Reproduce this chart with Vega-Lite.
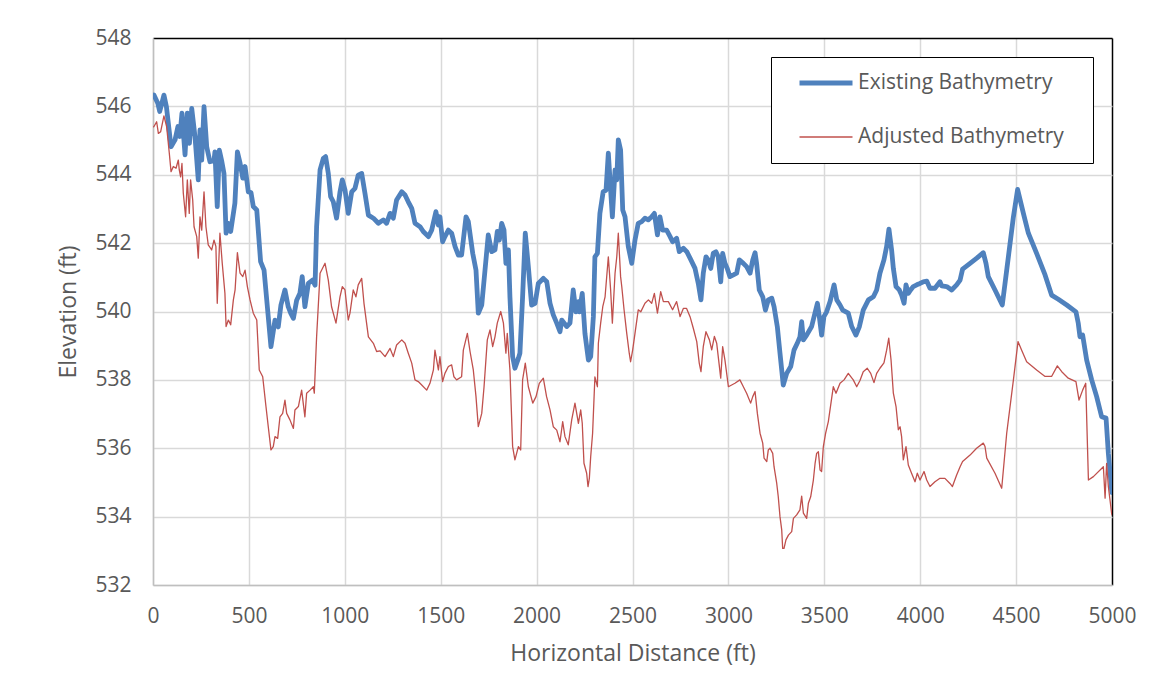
{
  "$schema": "https://vega.github.io/schema/vega-lite/v6.json",
  "width": 959,
  "height": 547,
  "autosize": {"type": "none"},
  "padding": {"left": 153, "top": 38, "right": 49, "bottom": 113},
  "background": "white",
  "config": {
    "view": {"stroke": null},
    "font": "Open Sans",
    "axis": {
      "labelFont": "Open Sans",
      "titleFont": "Open Sans",
      "labelFontSize": 21,
      "titleFontSize": 23,
      "labelColor": "#595959",
      "titleColor": "#595959",
      "titleFontWeight": "normal",
      "ticks": false,
      "domainColor": "#bfbfbf",
      "domainWidth": 1.5,
      "gridWidth": 1.5,
      "labelOverlap": false,
      "labelFlush": false
    },
    "legend": {
      "labelFont": "Open Sans",
      "labelFontSize": 21,
      "labelColor": "#595959",
      "labelLimit": 400
    }
  },
  "data": {
    "values": [
      {"s":"Existing Bathymetry","x":0,"y":546.3},{"s":"Existing Bathymetry","x":5,"y":546.33},{"s":"Existing Bathymetry","x":25,"y":546.09},{"s":"Existing Bathymetry","x":35,"y":545.85},{"s":"Existing Bathymetry","x":57,"y":546.33},{"s":"Existing Bathymetry","x":70,"y":545.99},{"s":"Existing Bathymetry","x":94,"y":544.82},{"s":"Existing Bathymetry","x":115,"y":545.02},{"s":"Existing Bathymetry","x":130,"y":545.41},{"s":"Existing Bathymetry","x":140,"y":545.12},{"s":"Existing Bathymetry","x":151,"y":545.8},{"s":"Existing Bathymetry","x":167,"y":544.58},{"s":"Existing Bathymetry","x":179,"y":545.8},{"s":"Existing Bathymetry","x":190,"y":544.92},{"s":"Existing Bathymetry","x":202,"y":545.94},{"s":"Existing Bathymetry","x":219,"y":545.11},{"s":"Existing Bathymetry","x":236,"y":543.85},{"s":"Existing Bathymetry","x":245,"y":545.31},{"s":"Existing Bathymetry","x":254,"y":544.43},{"s":"Existing Bathymetry","x":266,"y":545.99},{"s":"Existing Bathymetry","x":280,"y":544.82},{"s":"Existing Bathymetry","x":297,"y":544.38},{"s":"Existing Bathymetry","x":318,"y":544.41},{"s":"Existing Bathymetry","x":323,"y":544.67},{"s":"Existing Bathymetry","x":335,"y":543.07},{"s":"Existing Bathymetry","x":346,"y":544.72},{"s":"Existing Bathymetry","x":358,"y":544.41},{"s":"Existing Bathymetry","x":370,"y":544.04},{"s":"Existing Bathymetry","x":381,"y":542.29},{"s":"Existing Bathymetry","x":392,"y":542.58},{"s":"Existing Bathymetry","x":405,"y":542.34},{"s":"Existing Bathymetry","x":427,"y":543.17},{"s":"Existing Bathymetry","x":440,"y":544.67},{"s":"Existing Bathymetry","x":454,"y":544.34},{"s":"Existing Bathymetry","x":468,"y":543.9},{"s":"Existing Bathymetry","x":480,"y":544.24},{"s":"Existing Bathymetry","x":497,"y":543.5},{"s":"Existing Bathymetry","x":511,"y":543.48},{"s":"Existing Bathymetry","x":523,"y":543.07},{"s":"Existing Bathymetry","x":541,"y":542.97},{"s":"Existing Bathymetry","x":561,"y":541.46},{"s":"Existing Bathymetry","x":579,"y":541.21},{"s":"Existing Bathymetry","x":615,"y":538.97},{"s":"Existing Bathymetry","x":636,"y":539.75},{"s":"Existing Bathymetry","x":653,"y":539.55},{"s":"Existing Bathymetry","x":667,"y":540.19},{"s":"Existing Bathymetry","x":688,"y":540.63},{"s":"Existing Bathymetry","x":705,"y":540.14},{"s":"Existing Bathymetry","x":718,"y":539.95},{"s":"Existing Bathymetry","x":732,"y":539.8},{"s":"Existing Bathymetry","x":749,"y":540.33},{"s":"Existing Bathymetry","x":766,"y":540.53},{"s":"Existing Bathymetry","x":778,"y":541.02},{"s":"Existing Bathymetry","x":792,"y":540.14},{"s":"Existing Bathymetry","x":810,"y":540.82},{"s":"Existing Bathymetry","x":832,"y":540.92},{"s":"Existing Bathymetry","x":845,"y":540.77},{"s":"Existing Bathymetry","x":853,"y":542.48},{"s":"Existing Bathymetry","x":871,"y":544.14},{"s":"Existing Bathymetry","x":888,"y":544.48},{"s":"Existing Bathymetry","x":900,"y":544.53},{"s":"Existing Bathymetry","x":914,"y":544.04},{"s":"Existing Bathymetry","x":926,"y":543.36},{"s":"Existing Bathymetry","x":940,"y":543.21},{"s":"Existing Bathymetry","x":957,"y":542.73},{"s":"Existing Bathymetry","x":975,"y":543.5},{"s":"Existing Bathymetry","x":987,"y":543.85},{"s":"Existing Bathymetry","x":1001,"y":543.56},{"s":"Existing Bathymetry","x":1018,"y":542.87},{"s":"Existing Bathymetry","x":1036,"y":543.5},{"s":"Existing Bathymetry","x":1053,"y":543.6},{"s":"Existing Bathymetry","x":1070,"y":543.99},{"s":"Existing Bathymetry","x":1088,"y":544.04},{"s":"Existing Bathymetry","x":1105,"y":543.46},{"s":"Existing Bathymetry","x":1123,"y":542.82},{"s":"Existing Bathymetry","x":1149,"y":542.73},{"s":"Existing Bathymetry","x":1175,"y":542.58},{"s":"Existing Bathymetry","x":1201,"y":542.68},{"s":"Existing Bathymetry","x":1218,"y":542.58},{"s":"Existing Bathymetry","x":1236,"y":542.87},{"s":"Existing Bathymetry","x":1253,"y":542.73},{"s":"Existing Bathymetry","x":1270,"y":543.26},{"s":"Existing Bathymetry","x":1297,"y":543.5},{"s":"Existing Bathymetry","x":1314,"y":543.41},{"s":"Existing Bathymetry","x":1331,"y":543.21},{"s":"Existing Bathymetry","x":1349,"y":543.02},{"s":"Existing Bathymetry","x":1366,"y":542.58},{"s":"Existing Bathymetry","x":1392,"y":542.48},{"s":"Existing Bathymetry","x":1409,"y":542.34},{"s":"Existing Bathymetry","x":1436,"y":542.19},{"s":"Existing Bathymetry","x":1453,"y":542.38},{"s":"Existing Bathymetry","x":1475,"y":542.92},{"s":"Existing Bathymetry","x":1488,"y":542.53},{"s":"Existing Bathymetry","x":1496,"y":542.77},{"s":"Existing Bathymetry","x":1510,"y":542.04},{"s":"Existing Bathymetry","x":1522,"y":542.19},{"s":"Existing Bathymetry","x":1540,"y":542.38},{"s":"Existing Bathymetry","x":1557,"y":542.29},{"s":"Existing Bathymetry","x":1575,"y":541.9},{"s":"Existing Bathymetry","x":1592,"y":541.65},{"s":"Existing Bathymetry","x":1609,"y":541.65},{"s":"Existing Bathymetry","x":1632,"y":542.77},{"s":"Existing Bathymetry","x":1644,"y":542.63},{"s":"Existing Bathymetry","x":1667,"y":541.7},{"s":"Existing Bathymetry","x":1684,"y":541.21},{"s":"Existing Bathymetry","x":1696,"y":539.95},{"s":"Existing Bathymetry","x":1714,"y":540.19},{"s":"Existing Bathymetry","x":1731,"y":541.21},{"s":"Existing Bathymetry","x":1748,"y":542.24},{"s":"Existing Bathymetry","x":1766,"y":541.75},{"s":"Existing Bathymetry","x":1783,"y":541.8},{"s":"Existing Bathymetry","x":1795,"y":542.34},{"s":"Existing Bathymetry","x":1806,"y":542.09},{"s":"Existing Bathymetry","x":1818,"y":542.58},{"s":"Existing Bathymetry","x":1830,"y":542.38},{"s":"Existing Bathymetry","x":1840,"y":541.41},{"s":"Existing Bathymetry","x":1853,"y":541.8},{"s":"Existing Bathymetry","x":1861,"y":540.43},{"s":"Existing Bathymetry","x":1875,"y":538.68},{"s":"Existing Bathymetry","x":1887,"y":538.34},{"s":"Existing Bathymetry","x":1905,"y":538.63},{"s":"Existing Bathymetry","x":1913,"y":538.78},{"s":"Existing Bathymetry","x":1927,"y":540.43},{"s":"Existing Bathymetry","x":1941,"y":542.29},{"s":"Existing Bathymetry","x":1957,"y":541.31},{"s":"Existing Bathymetry","x":1974,"y":540.19},{"s":"Existing Bathymetry","x":1992,"y":540.24},{"s":"Existing Bathymetry","x":2009,"y":540.82},{"s":"Existing Bathymetry","x":2035,"y":540.97},{"s":"Existing Bathymetry","x":2053,"y":540.87},{"s":"Existing Bathymetry","x":2070,"y":540.24},{"s":"Existing Bathymetry","x":2087,"y":539.9},{"s":"Existing Bathymetry","x":2105,"y":539.66},{"s":"Existing Bathymetry","x":2122,"y":539.41},{"s":"Existing Bathymetry","x":2131,"y":539.75},{"s":"Existing Bathymetry","x":2157,"y":539.56},{"s":"Existing Bathymetry","x":2174,"y":539.66},{"s":"Existing Bathymetry","x":2191,"y":540.63},{"s":"Existing Bathymetry","x":2205,"y":539.99},{"s":"Existing Bathymetry","x":2218,"y":540.29},{"s":"Existing Bathymetry","x":2223,"y":539.99},{"s":"Existing Bathymetry","x":2238,"y":540.53},{"s":"Existing Bathymetry","x":2252,"y":539.36},{"s":"Existing Bathymetry","x":2270,"y":538.58},{"s":"Existing Bathymetry","x":2282,"y":538.68},{"s":"Existing Bathymetry","x":2296,"y":539.85},{"s":"Existing Bathymetry","x":2304,"y":541.6},{"s":"Existing Bathymetry","x":2317,"y":541.7},{"s":"Existing Bathymetry","x":2330,"y":542.87},{"s":"Existing Bathymetry","x":2347,"y":543.5},{"s":"Existing Bathymetry","x":2362,"y":543.55},{"s":"Existing Bathymetry","x":2374,"y":544.63},{"s":"Existing Bathymetry","x":2386,"y":543.55},{"s":"Existing Bathymetry","x":2395,"y":542.77},{"s":"Existing Bathymetry","x":2409,"y":544.14},{"s":"Existing Bathymetry","x":2418,"y":543.85},{"s":"Existing Bathymetry","x":2426,"y":545.02},{"s":"Existing Bathymetry","x":2438,"y":544.72},{"s":"Existing Bathymetry","x":2449,"y":542.97},{"s":"Existing Bathymetry","x":2461,"y":542.77},{"s":"Existing Bathymetry","x":2478,"y":541.9},{"s":"Existing Bathymetry","x":2496,"y":541.41},{"s":"Existing Bathymetry","x":2513,"y":542.09},{"s":"Existing Bathymetry","x":2530,"y":542.58},{"s":"Existing Bathymetry","x":2548,"y":542.63},{"s":"Existing Bathymetry","x":2565,"y":542.73},{"s":"Existing Bathymetry","x":2582,"y":542.68},{"s":"Existing Bathymetry","x":2600,"y":542.77},{"s":"Existing Bathymetry","x":2614,"y":542.87},{"s":"Existing Bathymetry","x":2630,"y":542.24},{"s":"Existing Bathymetry","x":2643,"y":542.77},{"s":"Existing Bathymetry","x":2657,"y":542.38},{"s":"Existing Bathymetry","x":2678,"y":542.38},{"s":"Existing Bathymetry","x":2696,"y":542.19},{"s":"Existing Bathymetry","x":2709,"y":542.04},{"s":"Existing Bathymetry","x":2730,"y":542.14},{"s":"Existing Bathymetry","x":2744,"y":541.75},{"s":"Existing Bathymetry","x":2765,"y":541.85},{"s":"Existing Bathymetry","x":2783,"y":541.75},{"s":"Existing Bathymetry","x":2800,"y":541.56},{"s":"Existing Bathymetry","x":2826,"y":541.26},{"s":"Existing Bathymetry","x":2843,"y":540.82},{"s":"Existing Bathymetry","x":2857,"y":540.34},{"s":"Existing Bathymetry","x":2869,"y":541.12},{"s":"Existing Bathymetry","x":2883,"y":541.6},{"s":"Existing Bathymetry","x":2895,"y":541.51},{"s":"Existing Bathymetry","x":2908,"y":541.26},{"s":"Existing Bathymetry","x":2921,"y":541.7},{"s":"Existing Bathymetry","x":2935,"y":541.75},{"s":"Existing Bathymetry","x":2947,"y":541.6},{"s":"Existing Bathymetry","x":2960,"y":540.87},{"s":"Existing Bathymetry","x":2970,"y":541.7},{"s":"Existing Bathymetry","x":2982,"y":541.41},{"s":"Existing Bathymetry","x":2994,"y":541.26},{"s":"Existing Bathymetry","x":3008,"y":541.02},{"s":"Existing Bathymetry","x":3026,"y":541.07},{"s":"Existing Bathymetry","x":3043,"y":541.12},{"s":"Existing Bathymetry","x":3057,"y":541.51},{"s":"Existing Bathymetry","x":3078,"y":541.41},{"s":"Existing Bathymetry","x":3095,"y":541.31},{"s":"Existing Bathymetry","x":3113,"y":541.12},{"s":"Existing Bathymetry","x":3127,"y":541.51},{"s":"Existing Bathymetry","x":3139,"y":541.72},{"s":"Existing Bathymetry","x":3147,"y":541.41},{"s":"Existing Bathymetry","x":3161,"y":540.63},{"s":"Existing Bathymetry","x":3179,"y":540.43},{"s":"Existing Bathymetry","x":3193,"y":540.04},{"s":"Existing Bathymetry","x":3208,"y":540.34},{"s":"Existing Bathymetry","x":3226,"y":540.39},{"s":"Existing Bathymetry","x":3238,"y":540.14},{"s":"Existing Bathymetry","x":3255,"y":539.56},{"s":"Existing Bathymetry","x":3269,"y":538.78},{"s":"Existing Bathymetry","x":3286,"y":537.85},{"s":"Existing Bathymetry","x":3304,"y":538.19},{"s":"Existing Bathymetry","x":3325,"y":538.39},{"s":"Existing Bathymetry","x":3342,"y":538.87},{"s":"Existing Bathymetry","x":3359,"y":539.07},{"s":"Existing Bathymetry","x":3373,"y":539.26},{"s":"Existing Bathymetry","x":3382,"y":539.7},{"s":"Existing Bathymetry","x":3391,"y":539.17},{"s":"Existing Bathymetry","x":3408,"y":539.31},{"s":"Existing Bathymetry","x":3434,"y":539.56},{"s":"Existing Bathymetry","x":3451,"y":539.95},{"s":"Existing Bathymetry","x":3464,"y":540.24},{"s":"Existing Bathymetry","x":3474,"y":539.85},{"s":"Existing Bathymetry","x":3486,"y":539.31},{"s":"Existing Bathymetry","x":3498,"y":539.85},{"s":"Existing Bathymetry","x":3512,"y":539.99},{"s":"Existing Bathymetry","x":3530,"y":540.29},{"s":"Existing Bathymetry","x":3551,"y":540.78},{"s":"Existing Bathymetry","x":3565,"y":540.34},{"s":"Existing Bathymetry","x":3582,"y":540.19},{"s":"Existing Bathymetry","x":3596,"y":540.04},{"s":"Existing Bathymetry","x":3625,"y":539.95},{"s":"Existing Bathymetry","x":3643,"y":539.56},{"s":"Existing Bathymetry","x":3665,"y":539.31},{"s":"Existing Bathymetry","x":3683,"y":539.56},{"s":"Existing Bathymetry","x":3703,"y":540.04},{"s":"Existing Bathymetry","x":3730,"y":540.34},{"s":"Existing Bathymetry","x":3756,"y":540.43},{"s":"Existing Bathymetry","x":3773,"y":540.63},{"s":"Existing Bathymetry","x":3790,"y":541.12},{"s":"Existing Bathymetry","x":3811,"y":541.51},{"s":"Existing Bathymetry","x":3825,"y":541.9},{"s":"Existing Bathymetry","x":3837,"y":542.41},{"s":"Existing Bathymetry","x":3851,"y":541.8},{"s":"Existing Bathymetry","x":3860,"y":541.26},{"s":"Existing Bathymetry","x":3874,"y":540.73},{"s":"Existing Bathymetry","x":3891,"y":540.63},{"s":"Existing Bathymetry","x":3903,"y":540.48},{"s":"Existing Bathymetry","x":3916,"y":540.24},{"s":"Existing Bathymetry","x":3926,"y":540.78},{"s":"Existing Bathymetry","x":3938,"y":540.53},{"s":"Existing Bathymetry","x":3950,"y":540.63},{"s":"Existing Bathymetry","x":3964,"y":540.73},{"s":"Existing Bathymetry","x":3982,"y":540.78},{"s":"Existing Bathymetry","x":3999,"y":540.82},{"s":"Existing Bathymetry","x":4016,"y":540.87},{"s":"Existing Bathymetry","x":4034,"y":540.89},{"s":"Existing Bathymetry","x":4051,"y":540.68},{"s":"Existing Bathymetry","x":4077,"y":540.68},{"s":"Existing Bathymetry","x":4103,"y":540.87},{"s":"Existing Bathymetry","x":4112,"y":540.75},{"s":"Existing Bathymetry","x":4138,"y":540.73},{"s":"Existing Bathymetry","x":4164,"y":540.63},{"s":"Existing Bathymetry","x":4190,"y":540.78},{"s":"Existing Bathymetry","x":4208,"y":540.92},{"s":"Existing Bathymetry","x":4221,"y":541.24},{"s":"Existing Bathymetry","x":4260,"y":541.41},{"s":"Existing Bathymetry","x":4295,"y":541.56},{"s":"Existing Bathymetry","x":4329,"y":541.72},{"s":"Existing Bathymetry","x":4343,"y":541.41},{"s":"Existing Bathymetry","x":4355,"y":541.02},{"s":"Existing Bathymetry","x":4390,"y":540.63},{"s":"Existing Bathymetry","x":4428,"y":540.19},{"s":"Existing Bathymetry","x":4451,"y":541.21},{"s":"Existing Bathymetry","x":4486,"y":542.77},{"s":"Existing Bathymetry","x":4508,"y":543.57},{"s":"Existing Bathymetry","x":4538,"y":542.87},{"s":"Existing Bathymetry","x":4564,"y":542.29},{"s":"Existing Bathymetry","x":4607,"y":541.7},{"s":"Existing Bathymetry","x":4651,"y":541.07},{"s":"Existing Bathymetry","x":4685,"y":540.48},{"s":"Existing Bathymetry","x":4720,"y":540.36},{"s":"Existing Bathymetry","x":4764,"y":540.19},{"s":"Existing Bathymetry","x":4812,"y":539.99},{"s":"Existing Bathymetry","x":4824,"y":539.66},{"s":"Existing Bathymetry","x":4833,"y":539.26},{"s":"Existing Bathymetry","x":4847,"y":539.31},{"s":"Existing Bathymetry","x":4868,"y":538.58},{"s":"Existing Bathymetry","x":4894,"y":538.0},{"s":"Existing Bathymetry","x":4920,"y":537.51},{"s":"Existing Bathymetry","x":4946,"y":536.92},{"s":"Existing Bathymetry","x":4969,"y":536.88},{"s":"Existing Bathymetry","x":4981,"y":535.85},{"s":"Existing Bathymetry","x":4998,"y":534.78},{"s":"Existing Bathymetry","x":5000,"y":534.7},
      {"s":"Adjusted Bathymetry","x":0,"y":545.4},{"s":"Adjusted Bathymetry","x":5,"y":545.41},{"s":"Adjusted Bathymetry","x":19,"y":545.55},{"s":"Adjusted Bathymetry","x":28,"y":545.21},{"s":"Adjusted Bathymetry","x":40,"y":545.26},{"s":"Adjusted Bathymetry","x":57,"y":545.72},{"s":"Adjusted Bathymetry","x":71,"y":545.41},{"s":"Adjusted Bathymetry","x":85,"y":544.63},{"s":"Adjusted Bathymetry","x":94,"y":544.09},{"s":"Adjusted Bathymetry","x":106,"y":544.24},{"s":"Adjusted Bathymetry","x":120,"y":544.19},{"s":"Adjusted Bathymetry","x":132,"y":544.43},{"s":"Adjusted Bathymetry","x":137,"y":544.14},{"s":"Adjusted Bathymetry","x":144,"y":543.94},{"s":"Adjusted Bathymetry","x":151,"y":544.33},{"s":"Adjusted Bathymetry","x":158,"y":543.46},{"s":"Adjusted Bathymetry","x":170,"y":542.77},{"s":"Adjusted Bathymetry","x":179,"y":543.85},{"s":"Adjusted Bathymetry","x":189,"y":542.87},{"s":"Adjusted Bathymetry","x":196,"y":543.85},{"s":"Adjusted Bathymetry","x":207,"y":543.26},{"s":"Adjusted Bathymetry","x":214,"y":542.48},{"s":"Adjusted Bathymetry","x":228,"y":542.19},{"s":"Adjusted Bathymetry","x":236,"y":541.56},{"s":"Adjusted Bathymetry","x":245,"y":542.77},{"s":"Adjusted Bathymetry","x":254,"y":542.38},{"s":"Adjusted Bathymetry","x":266,"y":543.5},{"s":"Adjusted Bathymetry","x":276,"y":542.48},{"s":"Adjusted Bathymetry","x":288,"y":541.95},{"s":"Adjusted Bathymetry","x":306,"y":541.8},{"s":"Adjusted Bathymetry","x":318,"y":542.09},{"s":"Adjusted Bathymetry","x":328,"y":541.9},{"s":"Adjusted Bathymetry","x":335,"y":540.24},{"s":"Adjusted Bathymetry","x":342,"y":541.31},{"s":"Adjusted Bathymetry","x":349,"y":542.29},{"s":"Adjusted Bathymetry","x":361,"y":541.41},{"s":"Adjusted Bathymetry","x":375,"y":540.53},{"s":"Adjusted Bathymetry","x":381,"y":539.56},{"s":"Adjusted Bathymetry","x":393,"y":539.75},{"s":"Adjusted Bathymetry","x":405,"y":539.61},{"s":"Adjusted Bathymetry","x":419,"y":540.34},{"s":"Adjusted Bathymetry","x":428,"y":540.63},{"s":"Adjusted Bathymetry","x":440,"y":541.72},{"s":"Adjusted Bathymetry","x":454,"y":541.12},{"s":"Adjusted Bathymetry","x":468,"y":541.02},{"s":"Adjusted Bathymetry","x":480,"y":541.21},{"s":"Adjusted Bathymetry","x":492,"y":540.73},{"s":"Adjusted Bathymetry","x":506,"y":540.34},{"s":"Adjusted Bathymetry","x":523,"y":539.95},{"s":"Adjusted Bathymetry","x":541,"y":539.75},{"s":"Adjusted Bathymetry","x":554,"y":538.29},{"s":"Adjusted Bathymetry","x":572,"y":538.09},{"s":"Adjusted Bathymetry","x":589,"y":537.22},{"s":"Adjusted Bathymetry","x":601,"y":536.63},{"s":"Adjusted Bathymetry","x":615,"y":535.95},{"s":"Adjusted Bathymetry","x":627,"y":536.05},{"s":"Adjusted Bathymetry","x":636,"y":536.34},{"s":"Adjusted Bathymetry","x":650,"y":536.29},{"s":"Adjusted Bathymetry","x":662,"y":536.92},{"s":"Adjusted Bathymetry","x":676,"y":537.02},{"s":"Adjusted Bathymetry","x":688,"y":537.41},{"s":"Adjusted Bathymetry","x":697,"y":537.02},{"s":"Adjusted Bathymetry","x":714,"y":536.83},{"s":"Adjusted Bathymetry","x":732,"y":536.58},{"s":"Adjusted Bathymetry","x":740,"y":537.12},{"s":"Adjusted Bathymetry","x":758,"y":537.22},{"s":"Adjusted Bathymetry","x":775,"y":537.7},{"s":"Adjusted Bathymetry","x":792,"y":536.92},{"s":"Adjusted Bathymetry","x":801,"y":537.61},{"s":"Adjusted Bathymetry","x":819,"y":537.7},{"s":"Adjusted Bathymetry","x":836,"y":537.8},{"s":"Adjusted Bathymetry","x":841,"y":537.61},{"s":"Adjusted Bathymetry","x":853,"y":539.26},{"s":"Adjusted Bathymetry","x":871,"y":541.12},{"s":"Adjusted Bathymetry","x":897,"y":541.41},{"s":"Adjusted Bathymetry","x":914,"y":540.92},{"s":"Adjusted Bathymetry","x":931,"y":540.14},{"s":"Adjusted Bathymetry","x":954,"y":539.66},{"s":"Adjusted Bathymetry","x":975,"y":540.43},{"s":"Adjusted Bathymetry","x":987,"y":540.73},{"s":"Adjusted Bathymetry","x":1001,"y":540.63},{"s":"Adjusted Bathymetry","x":1018,"y":539.75},{"s":"Adjusted Bathymetry","x":1027,"y":539.95},{"s":"Adjusted Bathymetry","x":1044,"y":540.63},{"s":"Adjusted Bathymetry","x":1058,"y":540.43},{"s":"Adjusted Bathymetry","x":1070,"y":540.78},{"s":"Adjusted Bathymetry","x":1088,"y":540.97},{"s":"Adjusted Bathymetry","x":1100,"y":540.24},{"s":"Adjusted Bathymetry","x":1123,"y":539.26},{"s":"Adjusted Bathymetry","x":1149,"y":539.07},{"s":"Adjusted Bathymetry","x":1166,"y":538.83},{"s":"Adjusted Bathymetry","x":1184,"y":538.85},{"s":"Adjusted Bathymetry","x":1210,"y":538.68},{"s":"Adjusted Bathymetry","x":1236,"y":538.92},{"s":"Adjusted Bathymetry","x":1253,"y":538.68},{"s":"Adjusted Bathymetry","x":1270,"y":539.02},{"s":"Adjusted Bathymetry","x":1297,"y":539.17},{"s":"Adjusted Bathymetry","x":1314,"y":539.07},{"s":"Adjusted Bathymetry","x":1331,"y":538.78},{"s":"Adjusted Bathymetry","x":1349,"y":538.49},{"s":"Adjusted Bathymetry","x":1366,"y":538.0},{"s":"Adjusted Bathymetry","x":1383,"y":537.95},{"s":"Adjusted Bathymetry","x":1401,"y":537.85},{"s":"Adjusted Bathymetry","x":1427,"y":537.7},{"s":"Adjusted Bathymetry","x":1444,"y":537.9},{"s":"Adjusted Bathymetry","x":1462,"y":538.29},{"s":"Adjusted Bathymetry","x":1470,"y":538.87},{"s":"Adjusted Bathymetry","x":1488,"y":538.29},{"s":"Adjusted Bathymetry","x":1496,"y":538.68},{"s":"Adjusted Bathymetry","x":1510,"y":537.95},{"s":"Adjusted Bathymetry","x":1522,"y":538.19},{"s":"Adjusted Bathymetry","x":1540,"y":538.39},{"s":"Adjusted Bathymetry","x":1557,"y":538.44},{"s":"Adjusted Bathymetry","x":1569,"y":538.09},{"s":"Adjusted Bathymetry","x":1583,"y":538.0},{"s":"Adjusted Bathymetry","x":1609,"y":538.09},{"s":"Adjusted Bathymetry","x":1618,"y":538.87},{"s":"Adjusted Bathymetry","x":1639,"y":539.36},{"s":"Adjusted Bathymetry","x":1653,"y":538.83},{"s":"Adjusted Bathymetry","x":1670,"y":538.29},{"s":"Adjusted Bathymetry","x":1684,"y":537.51},{"s":"Adjusted Bathymetry","x":1696,"y":536.63},{"s":"Adjusted Bathymetry","x":1714,"y":537.02},{"s":"Adjusted Bathymetry","x":1726,"y":537.8},{"s":"Adjusted Bathymetry","x":1743,"y":539.17},{"s":"Adjusted Bathymetry","x":1757,"y":539.46},{"s":"Adjusted Bathymetry","x":1771,"y":538.97},{"s":"Adjusted Bathymetry","x":1783,"y":539.26},{"s":"Adjusted Bathymetry","x":1795,"y":539.66},{"s":"Adjusted Bathymetry","x":1813,"y":540.0},{"s":"Adjusted Bathymetry","x":1827,"y":539.66},{"s":"Adjusted Bathymetry","x":1840,"y":538.78},{"s":"Adjusted Bathymetry","x":1847,"y":539.36},{"s":"Adjusted Bathymetry","x":1861,"y":538.29},{"s":"Adjusted Bathymetry","x":1875,"y":536.05},{"s":"Adjusted Bathymetry","x":1887,"y":535.66},{"s":"Adjusted Bathymetry","x":1905,"y":536.05},{"s":"Adjusted Bathymetry","x":1917,"y":535.95},{"s":"Adjusted Bathymetry","x":1927,"y":538.0},{"s":"Adjusted Bathymetry","x":1941,"y":538.49},{"s":"Adjusted Bathymetry","x":1957,"y":537.8},{"s":"Adjusted Bathymetry","x":1980,"y":537.32},{"s":"Adjusted Bathymetry","x":1997,"y":537.51},{"s":"Adjusted Bathymetry","x":2014,"y":537.9},{"s":"Adjusted Bathymetry","x":2035,"y":538.05},{"s":"Adjusted Bathymetry","x":2052,"y":537.51},{"s":"Adjusted Bathymetry","x":2070,"y":537.12},{"s":"Adjusted Bathymetry","x":2087,"y":536.63},{"s":"Adjusted Bathymetry","x":2105,"y":536.53},{"s":"Adjusted Bathymetry","x":2122,"y":536.19},{"s":"Adjusted Bathymetry","x":2136,"y":536.78},{"s":"Adjusted Bathymetry","x":2148,"y":536.34},{"s":"Adjusted Bathymetry","x":2165,"y":536.1},{"s":"Adjusted Bathymetry","x":2183,"y":536.83},{"s":"Adjusted Bathymetry","x":2200,"y":537.32},{"s":"Adjusted Bathymetry","x":2218,"y":536.73},{"s":"Adjusted Bathymetry","x":2230,"y":537.12},{"s":"Adjusted Bathymetry","x":2238,"y":536.73},{"s":"Adjusted Bathymetry","x":2247,"y":535.56},{"s":"Adjusted Bathymetry","x":2261,"y":535.27},{"s":"Adjusted Bathymetry","x":2268,"y":534.88},{"s":"Adjusted Bathymetry","x":2275,"y":535.12},{"s":"Adjusted Bathymetry","x":2282,"y":535.75},{"s":"Adjusted Bathymetry","x":2292,"y":536.44},{"s":"Adjusted Bathymetry","x":2304,"y":538.09},{"s":"Adjusted Bathymetry","x":2317,"y":537.8},{"s":"Adjusted Bathymetry","x":2322,"y":539.07},{"s":"Adjusted Bathymetry","x":2334,"y":539.66},{"s":"Adjusted Bathymetry","x":2345,"y":540.14},{"s":"Adjusted Bathymetry","x":2357,"y":540.43},{"s":"Adjusted Bathymetry","x":2374,"y":541.6},{"s":"Adjusted Bathymetry","x":2386,"y":540.63},{"s":"Adjusted Bathymetry","x":2395,"y":539.66},{"s":"Adjusted Bathymetry","x":2409,"y":541.12},{"s":"Adjusted Bathymetry","x":2418,"y":541.6},{"s":"Adjusted Bathymetry","x":2426,"y":542.29},{"s":"Adjusted Bathymetry","x":2438,"y":541.02},{"s":"Adjusted Bathymetry","x":2444,"y":540.73},{"s":"Adjusted Bathymetry","x":2456,"y":540.05},{"s":"Adjusted Bathymetry","x":2470,"y":539.36},{"s":"Adjusted Bathymetry","x":2483,"y":538.78},{"s":"Adjusted Bathymetry","x":2490,"y":538.53},{"s":"Adjusted Bathymetry","x":2501,"y":538.88},{"s":"Adjusted Bathymetry","x":2513,"y":539.36},{"s":"Adjusted Bathymetry","x":2530,"y":540.05},{"s":"Adjusted Bathymetry","x":2543,"y":539.99},{"s":"Adjusted Bathymetry","x":2565,"y":540.24},{"s":"Adjusted Bathymetry","x":2583,"y":540.34},{"s":"Adjusted Bathymetry","x":2600,"y":540.24},{"s":"Adjusted Bathymetry","x":2614,"y":540.53},{"s":"Adjusted Bathymetry","x":2630,"y":539.95},{"s":"Adjusted Bathymetry","x":2647,"y":540.58},{"s":"Adjusted Bathymetry","x":2661,"y":540.29},{"s":"Adjusted Bathymetry","x":2687,"y":540.29},{"s":"Adjusted Bathymetry","x":2709,"y":540.05},{"s":"Adjusted Bathymetry","x":2730,"y":540.29},{"s":"Adjusted Bathymetry","x":2748,"y":539.85},{"s":"Adjusted Bathymetry","x":2765,"y":540.09},{"s":"Adjusted Bathymetry","x":2782,"y":540.09},{"s":"Adjusted Bathymetry","x":2800,"y":539.85},{"s":"Adjusted Bathymetry","x":2817,"y":539.51},{"s":"Adjusted Bathymetry","x":2835,"y":539.12},{"s":"Adjusted Bathymetry","x":2848,"y":538.49},{"s":"Adjusted Bathymetry","x":2857,"y":538.24},{"s":"Adjusted Bathymetry","x":2869,"y":538.97},{"s":"Adjusted Bathymetry","x":2883,"y":539.41},{"s":"Adjusted Bathymetry","x":2901,"y":539.17},{"s":"Adjusted Bathymetry","x":2913,"y":538.88},{"s":"Adjusted Bathymetry","x":2927,"y":539.27},{"s":"Adjusted Bathymetry","x":2939,"y":539.07},{"s":"Adjusted Bathymetry","x":2951,"y":538.49},{"s":"Adjusted Bathymetry","x":2960,"y":538.05},{"s":"Adjusted Bathymetry","x":2970,"y":538.97},{"s":"Adjusted Bathymetry","x":2982,"y":538.58},{"s":"Adjusted Bathymetry","x":3000,"y":537.8},{"s":"Adjusted Bathymetry","x":3017,"y":537.85},{"s":"Adjusted Bathymetry","x":3034,"y":537.9},{"s":"Adjusted Bathymetry","x":3060,"y":538.0},{"s":"Adjusted Bathymetry","x":3078,"y":537.8},{"s":"Adjusted Bathymetry","x":3095,"y":537.61},{"s":"Adjusted Bathymetry","x":3116,"y":537.32},{"s":"Adjusted Bathymetry","x":3127,"y":537.51},{"s":"Adjusted Bathymetry","x":3139,"y":537.66},{"s":"Adjusted Bathymetry","x":3151,"y":537.02},{"s":"Adjusted Bathymetry","x":3165,"y":536.44},{"s":"Adjusted Bathymetry","x":3179,"y":536.15},{"s":"Adjusted Bathymetry","x":3186,"y":535.71},{"s":"Adjusted Bathymetry","x":3200,"y":535.61},{"s":"Adjusted Bathymetry","x":3208,"y":535.95},{"s":"Adjusted Bathymetry","x":3217,"y":536.0},{"s":"Adjusted Bathymetry","x":3231,"y":535.85},{"s":"Adjusted Bathymetry","x":3238,"y":535.46},{"s":"Adjusted Bathymetry","x":3252,"y":534.97},{"s":"Adjusted Bathymetry","x":3260,"y":534.58},{"s":"Adjusted Bathymetry","x":3269,"y":534.0},{"s":"Adjusted Bathymetry","x":3278,"y":533.61},{"s":"Adjusted Bathymetry","x":3283,"y":533.07},{"s":"Adjusted Bathymetry","x":3290,"y":533.07},{"s":"Adjusted Bathymetry","x":3300,"y":533.32},{"s":"Adjusted Bathymetry","x":3313,"y":533.46},{"s":"Adjusted Bathymetry","x":3330,"y":533.56},{"s":"Adjusted Bathymetry","x":3339,"y":533.95},{"s":"Adjusted Bathymetry","x":3356,"y":534.05},{"s":"Adjusted Bathymetry","x":3373,"y":534.2},{"s":"Adjusted Bathymetry","x":3382,"y":534.6},{"s":"Adjusted Bathymetry","x":3391,"y":534.1},{"s":"Adjusted Bathymetry","x":3408,"y":533.95},{"s":"Adjusted Bathymetry","x":3417,"y":534.39},{"s":"Adjusted Bathymetry","x":3429,"y":534.58},{"s":"Adjusted Bathymetry","x":3443,"y":535.07},{"s":"Adjusted Bathymetry","x":3452,"y":535.56},{"s":"Adjusted Bathymetry","x":3460,"y":535.85},{"s":"Adjusted Bathymetry","x":3469,"y":535.9},{"s":"Adjusted Bathymetry","x":3478,"y":535.36},{"s":"Adjusted Bathymetry","x":3486,"y":535.32},{"s":"Adjusted Bathymetry","x":3495,"y":536.05},{"s":"Adjusted Bathymetry","x":3507,"y":536.44},{"s":"Adjusted Bathymetry","x":3521,"y":536.78},{"s":"Adjusted Bathymetry","x":3547,"y":537.8},{"s":"Adjusted Bathymetry","x":3561,"y":537.61},{"s":"Adjusted Bathymetry","x":3582,"y":537.9},{"s":"Adjusted Bathymetry","x":3603,"y":538.0},{"s":"Adjusted Bathymetry","x":3625,"y":538.19},{"s":"Adjusted Bathymetry","x":3651,"y":538.0},{"s":"Adjusted Bathymetry","x":3669,"y":537.8},{"s":"Adjusted Bathymetry","x":3686,"y":537.98},{"s":"Adjusted Bathymetry","x":3703,"y":538.24},{"s":"Adjusted Bathymetry","x":3724,"y":538.34},{"s":"Adjusted Bathymetry","x":3742,"y":538.19},{"s":"Adjusted Bathymetry","x":3759,"y":537.92},{"s":"Adjusted Bathymetry","x":3773,"y":538.19},{"s":"Adjusted Bathymetry","x":3790,"y":538.34},{"s":"Adjusted Bathymetry","x":3811,"y":538.5},{"s":"Adjusted Bathymetry","x":3825,"y":538.87},{"s":"Adjusted Bathymetry","x":3836,"y":539.22},{"s":"Adjusted Bathymetry","x":3848,"y":538.58},{"s":"Adjusted Bathymetry","x":3860,"y":537.61},{"s":"Adjusted Bathymetry","x":3874,"y":537.22},{"s":"Adjusted Bathymetry","x":3886,"y":536.54},{"s":"Adjusted Bathymetry","x":3895,"y":536.63},{"s":"Adjusted Bathymetry","x":3903,"y":536.34},{"s":"Adjusted Bathymetry","x":3912,"y":535.66},{"s":"Adjusted Bathymetry","x":3926,"y":536.05},{"s":"Adjusted Bathymetry","x":3938,"y":535.51},{"s":"Adjusted Bathymetry","x":3955,"y":535.27},{"s":"Adjusted Bathymetry","x":3973,"y":535.02},{"s":"Adjusted Bathymetry","x":3985,"y":535.27},{"s":"Adjusted Bathymetry","x":3999,"y":535.07},{"s":"Adjusted Bathymetry","x":4020,"y":535.32},{"s":"Adjusted Bathymetry","x":4034,"y":535.07},{"s":"Adjusted Bathymetry","x":4051,"y":534.88},{"s":"Adjusted Bathymetry","x":4077,"y":535.02},{"s":"Adjusted Bathymetry","x":4103,"y":535.12},{"s":"Adjusted Bathymetry","x":4129,"y":535.12},{"s":"Adjusted Bathymetry","x":4155,"y":534.97},{"s":"Adjusted Bathymetry","x":4168,"y":534.88},{"s":"Adjusted Bathymetry","x":4190,"y":535.22},{"s":"Adjusted Bathymetry","x":4208,"y":535.46},{"s":"Adjusted Bathymetry","x":4221,"y":535.61},{"s":"Adjusted Bathymetry","x":4260,"y":535.8},{"s":"Adjusted Bathymetry","x":4294,"y":536.0},{"s":"Adjusted Bathymetry","x":4329,"y":536.15},{"s":"Adjusted Bathymetry","x":4338,"y":536.05},{"s":"Adjusted Bathymetry","x":4347,"y":535.71},{"s":"Adjusted Bathymetry","x":4390,"y":535.27},{"s":"Adjusted Bathymetry","x":4425,"y":534.83},{"s":"Adjusted Bathymetry","x":4451,"y":536.44},{"s":"Adjusted Bathymetry","x":4486,"y":538.0},{"s":"Adjusted Bathymetry","x":4510,"y":539.12},{"s":"Adjusted Bathymetry","x":4529,"y":538.87},{"s":"Adjusted Bathymetry","x":4555,"y":538.53},{"s":"Adjusted Bathymetry","x":4607,"y":538.29},{"s":"Adjusted Bathymetry","x":4651,"y":538.1},{"s":"Adjusted Bathymetry","x":4685,"y":538.1},{"s":"Adjusted Bathymetry","x":4715,"y":538.41},{"s":"Adjusted Bathymetry","x":4738,"y":538.24},{"s":"Adjusted Bathymetry","x":4772,"y":538.05},{"s":"Adjusted Bathymetry","x":4812,"y":537.95},{"s":"Adjusted Bathymetry","x":4828,"y":537.41},{"s":"Adjusted Bathymetry","x":4847,"y":537.7},{"s":"Adjusted Bathymetry","x":4863,"y":537.9},{"s":"Adjusted Bathymetry","x":4877,"y":535.07},{"s":"Adjusted Bathymetry","x":4903,"y":535.17},{"s":"Adjusted Bathymetry","x":4955,"y":535.46},{"s":"Adjusted Bathymetry","x":4964,"y":534.54},{"s":"Adjusted Bathymetry","x":4972,"y":535.56},{"s":"Adjusted Bathymetry","x":4981,"y":534.88},{"s":"Adjusted Bathymetry","x":4998,"y":534.1},{"s":"Adjusted Bathymetry","x":5000,"y":534.05}
    ]
  },
  "mark": {"type": "line", "strokeJoin": "round", "strokeCap": "round", "clip": true},
  "encoding": {
    "x": {
      "field": "x",
      "type": "quantitative",
      "scale": {"domain": [0, 5000], "nice": false, "zero": false},
      "axis": {
        "title": "Horizontal Distance (ft)",
        "format": "d",
        "values": [0, 500, 1000, 1500, 2000, 2500, 3000, 3500, 4000, 4500, 5000],
        "labelPadding": 20,
        "titlePadding": 16,
        "gridColor": {"condition": {"test": "datum.value == 5000", "value": "#000000"}, "value": "#d9d9d9"}
      }
    },
    "y": {
      "field": "y",
      "type": "quantitative",
      "scale": {"domain": [532, 548], "nice": false, "zero": false},
      "axis": {
        "title": "Elevation (ft)",
        "format": "d",
        "values": [532, 534, 536, 538, 540, 542, 544, 546, 548],
        "labelPadding": 22,
        "titlePadding": 14,
        "gridColor": {"condition": {"test": "datum.value == 548", "value": "#000000"}, "value": "#d9d9d9"}
      }
    },
    "color": {
      "field": "s",
      "type": "nominal",
      "scale": {"domain": ["Existing Bathymetry", "Adjusted Bathymetry"], "range": ["#4f81bd", "#c0504d"]},
      "legend": {
        "title": null,
        "orient": "none",
        "legendX": 618,
        "legendY": 19,
        "direction": "vertical",
        "symbolType": "stroke",
        "symbolSize": 2809,
        "clipHeight": 24,
        "padding": 14,
        "rowPadding": 30,
        "symbolOffset": 12,
        "labelOffset": 3,
        "labelLimit": 400,
        "strokeColor": "#000000",
        "fillColor": "#ffffff",
        "labelExpr": "datum.label + '\u2800'"
      }
    },
    "strokeWidth": {
      "field": "s",
      "type": "nominal",
      "scale": {"domain": ["Existing Bathymetry", "Adjusted Bathymetry"], "range": [4.8, 1.3]},
      "legend": {
        "title": null,
        "orient": "none",
        "legendX": 618,
        "legendY": 19,
        "direction": "vertical",
        "symbolType": "stroke",
        "symbolSize": 2809,
        "clipHeight": 24,
        "padding": 14,
        "rowPadding": 30,
        "symbolOffset": 12,
        "labelOffset": 3,
        "labelLimit": 400,
        "strokeColor": "#000000",
        "fillColor": "#ffffff",
        "labelExpr": "datum.label + '\u2800'"
      }
    }
  }
}
